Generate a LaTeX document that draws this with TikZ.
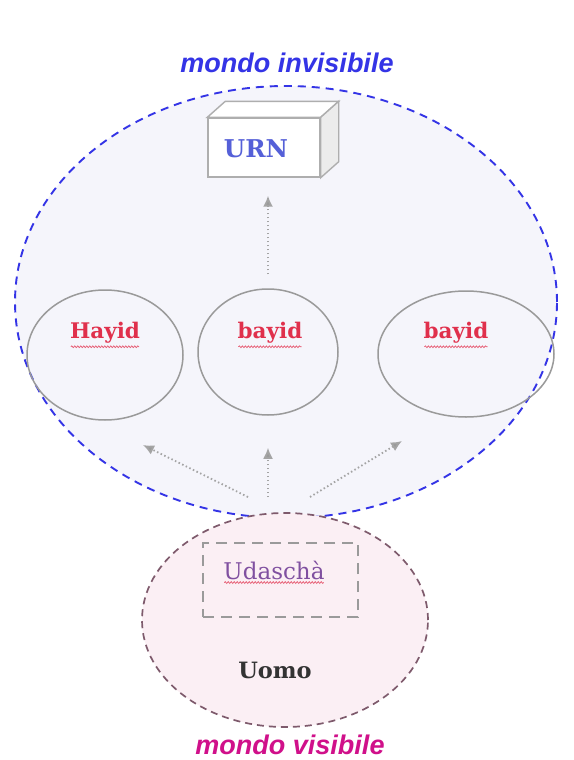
\documentclass[tikz,border=0pt]{standalone}
\usepackage{fontspec}
\setmainfont{DejaVu Serif}
\setsansfont{Liberation Sans}
\usetikzlibrary{shapes.geometric,arrows.meta,decorations.pathmorphing,calc}
\definecolor{invblue}{HTML}{3434E6}
\definecolor{invfill}{HTML}{F5F5FB}
\definecolor{visfill}{HTML}{FBEFF4}
\definecolor{visline}{HTML}{7E5A6C}
\definecolor{magent}{HTML}{D0108A}
\definecolor{redlab}{HTML}{E0304C}
\definecolor{urnblue}{HTML}{5560D8}
\definecolor{udpurple}{HTML}{8050A0}
\definecolor{grayline}{HTML}{9A9A9A}
\begin{document}
\begin{tikzpicture}[x=1pt,y=-1pt,
  worldtitle/.style={font=\sffamily\bfseries\itshape\fontsize{27}{30}\selectfont},
  hayidnode/.style={ellipse,draw=grayline,line width=1.5pt,inner sep=0pt},
  hlabel/.style={font=\bfseries\fontsize{21.5}{24}\selectfont,text=redlab,inner sep=1pt},
  squiggle/.style={draw=redlab!80,line width=0.7pt,decorate,decoration={snake,segment length=3pt,amplitude=0.9pt}},
  dotarrow/.style={draw=grayline!90,line width=1.8pt,dash pattern=on 1.5pt off 2.5pt,-{Latex[length=11pt,width=10pt,fill=grayline]}},
]
\useasboundingbox (0,0) rectangle (573,760);
\fill[white] (0,0) rectangle (573,760);

% invisible world
\node[ellipse,draw=invblue,dash pattern=on 8pt off 6pt,line width=1.9pt,fill=invfill,
      minimum width=542pt,minimum height=432pt,inner sep=0pt] (inv) at (286,302) {};
\node[worldtitle,text=invblue] (invtitle) at (287,63) {mondo invisibile};

% URN box
\node[draw=grayline!80,line width=1.4pt,fill=white,minimum width=112pt,minimum height=59pt,inner sep=0pt] (urn) at (264,147.5) {};
\draw[grayline!80,line width=1.4pt,fill=white] (urn.north west) -- ++(18,-16) -- ($(urn.north east)+(18,-16)$) -- (urn.north east) -- cycle;
\draw[grayline!80,line width=1.4pt,fill=gray!15] (urn.north east) -- ++(18,-16) -- ($(urn.south east)+(18,-16)$) -- (urn.south east) -- cycle;
\node[font=\bfseries\fontsize{24.5}{28}\selectfont,text=urnblue] (urnlabel) at (256,149) {URN};

% hayid ellipses
\node[hayidnode,minimum width=156pt,minimum height=130pt] (h1) at (105,355) {};
\node[hayidnode,minimum width=140pt,minimum height=126pt] (h2) at (268,352) {};
\node[hayidnode,minimum width=176pt,minimum height=126pt] (h3) at (466,354) {};
\node[hlabel] (l1) at (105,333) {Hayid};
\node[hlabel] (l2) at (270,333) {bayid};
\node[hlabel] (l3) at (456,333) {bayid};
\foreach \l in {l1,l2,l3}{
  \draw[squiggle] ($(\l.south west)+(2,2)$) -- ($(\l.south east)+(-2,2)$);
}

% arrow to URN
\draw[dotarrow] ([yshift=14pt]h2.north) -- ([yshift=-18pt]h2.north |- urn.south);

% visible world
\node[ellipse,draw=visline,dash pattern=on 7pt off 5pt,line width=1.7pt,fill=visfill,
      minimum width=286pt,minimum height=214pt,inner sep=0pt] (vis) at (285,620) {};
\node[draw=grayline,dash pattern=on 11pt off 7pt,line width=1.7pt,minimum width=155pt,minimum height=74pt,inner sep=0pt] (udbox) at (280.5,580) {};
\node[font=\fontsize{23}{26}\selectfont,text=udpurple,inner sep=1pt] (udlabel) at (274,570) {Udaschà};
\draw[squiggle] ($(udlabel.south west)+(2,2)$) -- ($(udlabel.south east)+(-2,2)$);
\node[font=\bfseries\fontsize{22.5}{26}\selectfont,text=black!80] (uomo) at (275,670) {Uomo};
\node[worldtitle,text=magent] (vistitle) at (290,745) {mondo visibile};

% arrows from man to hayid
\coordinate (s1) at (248,497);
\coordinate (s2) at (268,497);
\coordinate (s3) at (310,497);
\coordinate (t1) at (143,445);
\coordinate (t3) at (402,441);
\draw[dotarrow] (s1) -- (t1);
\draw[dotarrow] (s2) -- ([yshift=-32pt]h2.south);
\draw[dotarrow] (s3) -- (t3);
\end{tikzpicture}
\end{document}
